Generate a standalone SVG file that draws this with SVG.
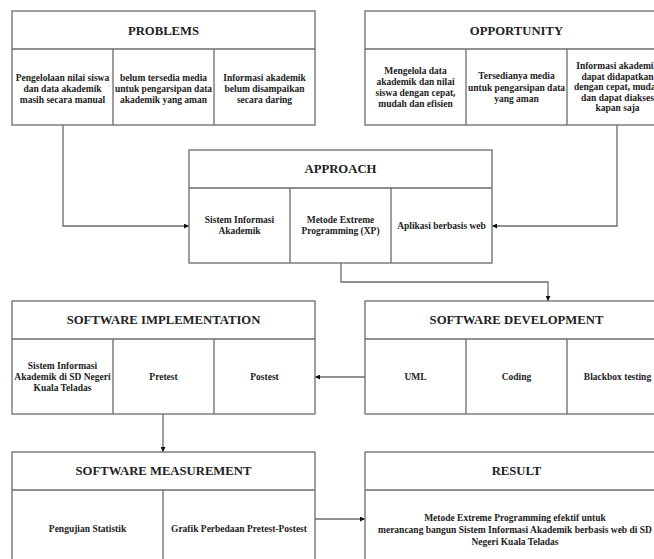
<svg xmlns="http://www.w3.org/2000/svg" width="654" height="559" viewBox="0 0 654 559">
<style>
.box{fill:#fff;stroke:#6b6b6b;stroke-width:1.3}
.ln{stroke:#6b6b6b;stroke-width:1.3;fill:none}
.t{font-family:"Liberation Serif","Times New Roman",serif;font-weight:bold;font-size:12.7px;fill:#222;text-anchor:middle;dominant-baseline:central}
.c{font-family:"Liberation Serif","Times New Roman",serif;font-weight:bold;font-size:9.5px;fill:#222;text-anchor:middle;dominant-baseline:central}
</style>
<defs>
<marker id="ah" viewBox="0 0 10 10" refX="10" refY="5" markerWidth="5" markerHeight="5" orient="auto" markerUnits="userSpaceOnUse">
<path d="M0,0 L10,5 L0,10 z" fill="#111"/>
</marker>
</defs>
<rect width="654" height="559" fill="#fff"/>

<g id="connectors">
<path class="ln" d="M63,125 V226 H189" marker-end="url(#ah)"/>
<path class="ln" d="M617,125 V226 H492" marker-end="url(#ah)"/>
<path class="ln" d="M341,263 V282 H548 V301" marker-end="url(#ah)"/>
<path class="ln" d="M365,377 H315" marker-end="url(#ah)"/>
<path class="ln" d="M163,414 V452" marker-end="url(#ah)"/>
<path class="ln" d="M315,519 H365" marker-end="url(#ah)"/>
</g>

<g id="problems">
<rect class="box" x="12" y="11" width="303" height="114"/>
<line class="ln" x1="12" y1="49" x2="315" y2="49"/>
<line class="ln" x1="113" y1="49" x2="113" y2="125"/>
<line class="ln" x1="214" y1="49" x2="214" y2="125"/>
<text class="t" x="163.5" y="31">PROBLEMS</text>
<text class="c" x="62.5" y="78">Pengelolaan nilai siswa</text>
<text class="c" x="62.5" y="89">dan data akademik</text>
<text class="c" x="62.5" y="100">masih secara manual</text>
<text class="c" x="163.5" y="78">belum tersedia media</text>
<text class="c" x="163.5" y="89">untuk pengarsipan data</text>
<text class="c" x="163.5" y="100">akademik yang aman</text>
<text class="c" x="264.5" y="78">Informasi akademik</text>
<text class="c" x="264.5" y="89">belum disampaikan</text>
<text class="c" x="264.5" y="100">secara daring</text>
</g>

<g id="opportunity">
<rect class="box" x="365" y="11" width="303" height="114"/>
<line class="ln" x1="365" y1="49" x2="668" y2="49"/>
<line class="ln" x1="466" y1="49" x2="466" y2="125"/>
<line class="ln" x1="567" y1="49" x2="567" y2="125"/>
<text class="t" x="516.5" y="31">OPPORTUNITY</text>
<text class="c" x="415.5" y="71">Mengelola data</text>
<text class="c" x="415.5" y="82">akademik dan nilai</text>
<text class="c" x="415.5" y="93">siswa dengan cepat,</text>
<text class="c" x="415.5" y="104">mudah dan efisien</text>
<text class="c" x="516.5" y="76">Tersedianya media</text>
<text class="c" x="516.5" y="88">untuk pengarsipan data</text>
<text class="c" x="516.5" y="99">yang aman</text>
<text class="c" x="617.5" y="66">Informasi akademik</text>
<text class="c" x="617.5" y="76.5">dapat didapatkan</text>
<text class="c" x="617.5" y="87">dengan cepat, mudah</text>
<text class="c" x="617.5" y="97.5">dan dapat diakses</text>
<text class="c" x="617.5" y="108">kapan saja</text>
</g>

<g id="approach">
<rect class="box" x="189" y="150" width="303" height="113"/>
<line class="ln" x1="189" y1="188" x2="492" y2="188"/>
<line class="ln" x1="290" y1="188" x2="290" y2="263"/>
<line class="ln" x1="391" y1="188" x2="391" y2="263"/>
<text class="t" x="340.5" y="169">APPROACH</text>
<text class="c" x="239.5" y="220">Sistem Informasi</text>
<text class="c" x="239.5" y="231">Akademik</text>
<text class="c" x="340.5" y="220">Metode Extreme</text>
<text class="c" x="340.5" y="231">Programming (XP)</text>
<text class="c" x="441.5" y="226">Aplikasi berbasis web</text>
</g>

<g id="software-implementation">
<rect class="box" x="12" y="301" width="303" height="113"/>
<line class="ln" x1="12" y1="339" x2="315" y2="339"/>
<line class="ln" x1="113" y1="339" x2="113" y2="414"/>
<line class="ln" x1="214" y1="339" x2="214" y2="414"/>
<text class="t" x="163.5" y="320">SOFTWARE IMPLEMENTATION</text>
<text class="c" x="62.5" y="366">Sistem Informasi</text>
<text class="c" x="62.5" y="377">Akademik di SD Negeri</text>
<text class="c" x="62.5" y="388">Kuala Teladas</text>
<text class="c" x="163.5" y="377">Pretest</text>
<text class="c" x="264.5" y="377">Postest</text>
</g>

<g id="software-development">
<rect class="box" x="365" y="301" width="303" height="113"/>
<line class="ln" x1="365" y1="339" x2="668" y2="339"/>
<line class="ln" x1="466" y1="339" x2="466" y2="414"/>
<line class="ln" x1="567" y1="339" x2="567" y2="414"/>
<text class="t" x="516.5" y="320">SOFTWARE DEVELOPMENT</text>
<text class="c" x="415.5" y="377">UML</text>
<text class="c" x="516.5" y="377">Coding</text>
<text class="c" x="617.5" y="377">Blackbox testing</text>
</g>

<g id="software-measurement">
<rect class="box" x="12" y="452" width="303" height="120"/>
<line class="ln" x1="12" y1="490" x2="315" y2="490"/>
<line class="ln" x1="163" y1="490" x2="163" y2="572"/>
<text class="t" x="163.5" y="471">SOFTWARE MEASUREMENT</text>
<text class="c" x="87.5" y="529">Pengujian Statistik</text>
<text class="c" x="239" y="529">Grafik Perbedaan Pretest-Postest</text>
</g>

<g id="result">
<rect class="box" x="365" y="452" width="303" height="120"/>
<line class="ln" x1="365" y1="490" x2="668" y2="490"/>
<text class="t" x="516.5" y="471">RESULT</text>
<text class="c" x="515" y="518">Metode Extreme Programming efektif untuk</text>
<text class="c" x="515" y="530">merancang bangun Sistem Informasi Akademik berbasis web di SD</text>
<text class="c" x="515" y="542">Negeri Kuala Teladas</text>
</g>
</svg>
